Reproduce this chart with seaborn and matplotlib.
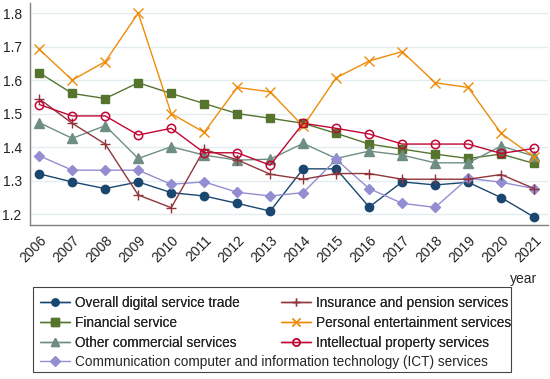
import matplotlib
matplotlib.use("Agg")
import matplotlib.pyplot as plt
from matplotlib.patches import Rectangle
import pandas as pd
import seaborn as sns

years = list(range(2006, 2022))

overall = [1.320, 1.296, 1.276, 1.296, 1.264, 1.254, 1.232, 1.209,
           1.335, 1.335, 1.221, 1.296, 1.287, 1.295, 1.249, 1.191]
financial = [1.622, 1.560, 1.545, 1.592, 1.560, 1.530, 1.500, 1.486,
             1.471, 1.441, 1.409, 1.394, 1.379, 1.366, 1.379, 1.351]
other_comm = [1.473, 1.426, 1.464, 1.366, 1.401, 1.376, 1.361, 1.364,
              1.411, 1.366, 1.388, 1.376, 1.353, 1.353, 1.403, 1.373]
ict = [1.374, 1.331, 1.331, 1.331, 1.289, 1.296, 1.265, 1.254,
       1.264, 1.363, 1.276, 1.232, 1.220, 1.307, 1.295, 1.276]
insurance = [1.544, 1.471, 1.409, 1.257, 1.219, 1.393, 1.362, 1.319,
             1.304, 1.321, 1.321, 1.304, 1.304, 1.304, 1.318, 1.276]
personal = [1.692, 1.600, 1.655, 1.800, 1.500, 1.444, 1.578, 1.565,
            1.462, 1.607, 1.657, 1.685, 1.592, 1.578, 1.441, 1.370]
intellectual = [1.527, 1.493, 1.493, 1.436, 1.456, 1.383, 1.383, 1.346,
                1.471, 1.456, 1.439, 1.409, 1.409, 1.409, 1.381, 1.396]

series = [
    ("Overall digital service trade", overall, "#1a476f", "o", True),
    ("Financial service", financial, "#55752f", "s", True),
    ("Other commercial services", other_comm, "#6e8e84", "^", True),
    ("Communication computer and information technology (ICT) services", ict, "#938dd2", "D", True),
    ("Insurance and pension services", insurance, "#90353b", "+", True),
    ("Personal entertainment services", personal, "#ee8c0a", "x", True),
    ("Intellectual property services", intellectual, "#c10534", "o", False),
]

sns.set_style("white")
plt.rcParams["font.family"] = ["Liberation Sans", "DejaVu Sans"]

fig = plt.figure(figsize=(5.5, 3.79), dpi=100)
ax = fig.add_axes([30 / 550, 0.406, 518 / 550, 0.586])

handles = {}
for name, vals, color, marker, filled in series:
    df = pd.DataFrame({"year": years, "value": vals})
    ms = {"o": 6, "s": 6, "^": 6.5, "D": 5.5, "+": 7, "x": 6.5}[marker]
    kw = dict(markerfacecolor=color if filled else "none",
              markeredgecolor=color, markeredgewidth=1.0 if filled else 1.1)
    sns.lineplot(data=df, x="year", y="value", color=color, marker=marker,
                 markersize=ms, linewidth=1.0, ax=ax, label=name, **kw)
    handles[name] = ax.get_lines()[-1]

ax.get_legend().remove()

ax.set_xlim(2005.72, 2021.42)
ax.set_ylim(1.167, 1.83)
ax.set_xticks(years)
ax.set_xticklabels([str(y) for y in years], rotation=45, ha="right",
                   rotation_mode="anchor", fontsize=10)
ax.set_yticks([1.2, 1.3, 1.4, 1.5, 1.6, 1.7, 1.8])
ax.set_yticklabels(["1.2", "1.3", "1.4", "1.5", "1.6", "1.7", "1.8"], fontsize=10)
ax.yaxis.grid(True, color="#e3edf0", linewidth=1.0)
ax.xaxis.grid(False)
for side in ["top", "right"]:
    ax.spines[side].set_visible(False)
for side in ["left", "bottom"]:
    ax.spines[side].set_color("#808080")
    ax.spines[side].set_linewidth(1.0)
ax.tick_params(axis="both", direction="out", length=4, width=0.8,
               color="#808080", colors="#222222", pad=2)
ax.set_xlabel("")
ax.set_ylabel("")
fig.text(537 / 550, 1 - 279 / 379, "year", ha="right", va="center", fontsize=10)

# legend box
fig.patches.append(Rectangle((33 / 550, 1 - 372 / 379), 478 / 550, 85 / 379,
                             transform=fig.transFigure, fill=False,
                             edgecolor="#444444", linewidth=0.8))

order = ["Overall digital service trade", "Financial service", "Other commercial services",
         "Insurance and pension services", "Personal entertainment services",
         "Intellectual property services"]
leg_kw = dict(loc="upper left", frameon=False, fontsize=9.8, handlelength=2.2,
              handletextpad=0.37, borderpad=0, borderaxespad=0, markerscale=0.85)
leg1 = fig.legend([handles[n] for n in order], order, ncol=2,
                  bbox_to_anchor=(40 / 550, 1 - 296 / 379),
                  columnspacing=3.0, labelspacing=0.45, **leg_kw)
ict_name = series[3][0]
leg2 = fig.legend([handles[ict_name]], [ict_name],
                  bbox_to_anchor=(40 / 550, 1 - 355 / 379), **leg_kw)
fig.add_artist(leg1)

fig.savefig("out.png", dpi=100)
